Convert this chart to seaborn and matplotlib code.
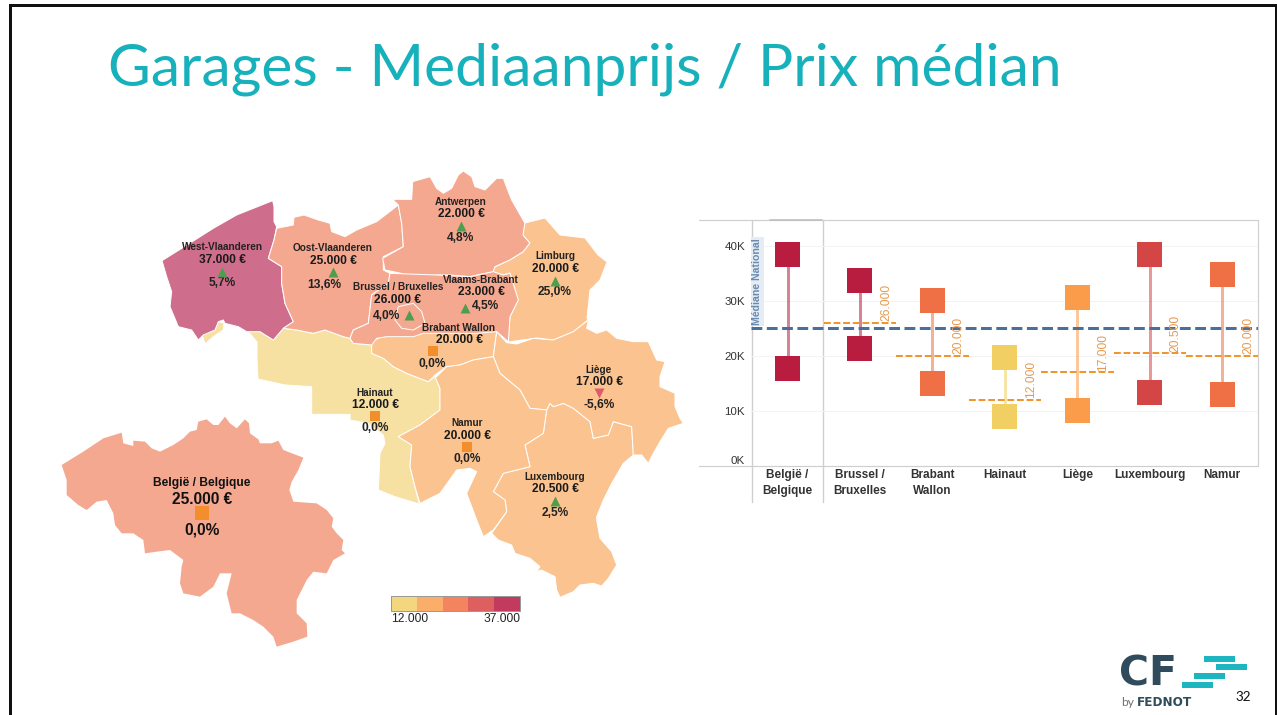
import matplotlib
matplotlib.use("Agg")
import matplotlib.pyplot as plt
from matplotlib.patches import Polygon, Rectangle
import pandas as pd
import seaborn as sns

sns.set_theme(style="white")
plt.rcParams["font.family"] = ["Liberation Sans", "DejaVu Sans"]

# ---------- chart data ----------
REGIONS = ["België /\nBelgique", "Brussel /\nBruxelles", "Brabant\nWallon", "Hainaut",
           "Liège", "Luxembourg", "Namur"]
HIGH = [38500, 33800, 30000, 19800, 30700, 38500, 34900]
LOW = [17800, 21300, 15000, 9000, 10000, 13300, 13000]
MEDIAN = [None, 26000, 20000, 12000, 17000, 20500, 20000]
MEDIAN_LABELS = ["", "26.000", "20.000", "12.000", "17.000", "20.500", "20.000"]
NATIONAL = 25000
Y_TICKS = [0, 10000, 20000, 30000, 40000]
Y_LABELS = ["0K", "10K", "20K", "30K", "40K"]
RANGE_COLORS = ["#B81D3F", "#B81D3F", "#EE7044", "#F1CF63", "#FB9C4A", "#D44646", "#EE7044"]

# ---------- map data: outlines traced in crop coordinates ----------
def crop(points, ox, oy):
    return [(ox + x / 3, oy + y / 3) for x, y in points]

WEST_VL = crop([(36,302),(100,262),(190,205),(260,165),(368,122),(372,140),(372,185),(380,200),(372,240),
    (355,295),(395,320),(395,370),(405,430),(430,485),(400,505),(370,540),(330,515),(290,515),(265,500),
    (225,490),(220,480),(205,485),(195,510),(160,525),(145,540),(125,510),(85,500),(60,440),(65,395),(50,350)], 150, 160)
MOUSCRON = crop([(155,520),(195,510),(205,485),(222,490),(220,510),(190,530),(165,552)], 150, 160)
OOST_VL = crop([(380,205),(430,195),(432,172),(462,165),(505,180),(540,190),(545,215),(585,230),(620,210),
    (680,185),(745,135),(755,190),(760,260),(700,290),(700,330),(720,340),(715,370),(665,405),(655,490),
    (610,510),(600,535),(580,530),(525,510),(490,520),(440,510),(400,505),(430,485),(405,430),(395,370),
    (395,320),(355,295),(372,240)], 150, 160)
ANTWERPEN = crop([(728,118),(785,118),(788,65),(840,50),(860,85),(880,100),(905,85),(925,45),(940,33),
    (965,50),(975,80),(1005,90),(1040,55),(1060,55),(1075,95),(1085,120),(1125,190),(1120,225),(1140,250),
    (1120,275),(1080,300),(1035,320),(1030,335),(960,350),(900,345),(860,345),(800,350),(730,335),(705,330),
    (698,295),(760,260),(755,190),(745,135)], 150, 160)
VL_BRABANT = crop([(720,340),(860,345),(960,350),(1030,335),(1060,345),(1080,340),(1105,420),(1080,470),
    (1075,545),(1040,515),(980,520),(820,520),(790,530),(710,530),(680,535),(665,555),(610,550),(600,535),
    (610,510),(655,490),(665,405),(715,370)], 150, 160)
BRUSSELS = crop([(745,440),(790,430),(815,455),(825,490),(790,510),(755,505),(735,480)], 150, 160)
LIMBURG = [(525,223),(545,218),(560,235),(585,238),(598,255),(607,262),(600,280),(590,290),(587,318),
    (588,320),(573,332),(553,340),(537,338),(508,342),(510,317),(518,300),(510,273),(503,275),(493,272),
    (495,267),(510,260),(523,252),(530,243),(523,235)]
BR_WALLON = crop([(95,65),(115,55),(145,40),(190,50),(250,25),(470,35),(460,110),(400,120),(360,135),
    (320,140),(285,165),(265,185),(200,160),(160,140),(130,115),(95,100)], 340, 320)
LIEGE = crop([(470,35),(500,68),(530,72),(580,55),(640,60),(700,35),(745,0),(740,25),(770,40),(800,30),
    (830,55),(880,65),(925,65),(950,120),(975,125),(960,170),(960,200),(1005,220),(1005,260),(1020,295),
    (1030,310),(985,325),(960,365),(940,400),(925,430),(905,405),(880,405),(875,320),(820,305),(805,345),
    (760,355),(750,305),(700,265),(670,250),(640,260),(630,250),(620,270),(570,265),(540,210),(480,160),
    (460,110)], 340, 320)
LUXEMBOURG = (crop([(620,270),(630,250),(640,260),(670,250),(700,265),(750,305),(760,355),(805,345),
    (820,305),(875,320),(880,405),(850,430),(815,490),(790,540),(770,590)], 340, 320)
    + crop([(650,30),(660,85),(695,125),(710,165),(685,205),(665,228),(640,220),(600,225),(580,245),(540,262),
    (530,240),(525,200),(485,180),(470,185),(480,170),(450,145),(405,130),(395,105),(355,90),(335,70)], 380, 510)
    + crop([(500,575),(495,540),(460,515),(490,460),(570,440),(555,375),(610,340)], 340, 320))
NAMUR = (crop([(290,170),(320,140),(360,135),(400,120),(460,110),(480,160),(540,210),(570,265),(620,270),
    (610,340),(555,375),(570,440),(490,460),(460,515),(495,540),(500,575),(460,630),(430,650),(410,600),
    (380,520),(410,455),(390,445),(350,450),(300,520),(240,550),(225,500),(210,440),(215,375),(175,350),
    (240,315),(300,270),(300,205),(285,170)], 340, 320))
HAINAUT = (crop([(295,515),(330,515),(370,540),(400,505),(440,510),(490,520),(525,510),(580,530),(600,535),
    (610,550),(665,555)], 150, 160)
    + crop([(95,65),(95,100),(130,115),(160,140),(200,160),(265,185),(285,170),(300,205),(300,270),(240,315),
    (175,350),(215,375),(210,440),(225,500),(238,552),(165,530),(115,510),(120,400),(135,370),(130,345),
    (85,310),(30,300),(30,283),(-85,283),(-85,200)], 340, 320)
    + [(285,385),(258,379),(257,360),(257,342)])
BELGIUM = crop([(35,165),(100,125),(160,85),(215,68),(220,100),(250,108),(250,92),(285,95),(305,115),(330,125),
    (370,105),(400,85),(420,65),(440,60),(445,35),(470,28),(490,45),(505,45),(525,20),(540,40),(560,55),(585,28),
    (597,40),(600,70),(625,88),(630,100),(665,100),(685,92),(700,120),(760,143),(745,180),(725,215),(718,240),
    (730,275),(770,278),(800,280),(830,300),(850,325),(845,350),(860,370),(880,390),(875,420),(885,430),(850,450),
    (830,490),(790,485),(770,510),(740,570),(740,610),(770,640),(772,680),(730,695),(680,710),(670,680),(640,650),
    (610,630),(570,610),(545,610),(530,550),(545,490),(510,490),(490,530),(450,560),(400,550),(390,520),(395,470),
    (400,450),(360,420),(320,425),(285,430),(280,390),(250,370),(215,370),(195,345),(190,310),(170,270),(140,275),
    (110,300),(85,285),(50,255),(50,210)], 50, 410)

PINK, ROSE, PEACH, YELLOW = "#F4A890", "#CF6E8C", "#FAC38F", "#F6E1A2"
PROVINCES = [(MOUSCRON, YELLOW), (HAINAUT, YELLOW), (WEST_VL, ROSE), (OOST_VL, PINK), (ANTWERPEN, PINK),
             (LIMBURG, PEACH), (BR_WALLON, PEACH), (VL_BRABANT, PINK), (BRUSSELS, PINK), (LUXEMBOURG, PEACH),
             (LIEGE, PEACH), (NAMUR, PEACH)]

# name, value, percentage, marker, label x, name y, value y, pct x, pct y, marker x, marker y
MAP_LABELS = [
    ("West-Vlaanderen", "37.000 €", "5,7%", "^", 222, 247, 260, 222, 283, 222, 272),
    ("Oost-Vlaanderen", "25.000 €", "13,6%", "^", 333, 248, 261, 324, 285, 333, 272),
    ("Antwerpen", "22.000 €", "4,8%", "^", 461, 202, 214, 461, 238, 461, 226),
    ("Limburg", "20.000 €", "25,0%", "^", 555, 256, 269, 555, 292, 555, 281),
    ("Brussel / Bruxelles", "26.000 €", "4,0%", "^", 398, 287, 300, 387, 316, 409, 315),
    ("Vlaams-Brabant", "23.000 €", "4,5%", "^", 481, 280, 292, 486, 306, 465, 308),
    ("Brabant Wallon", "20.000 €", "0,0%", "s", 459, 328, 340, 432, 364, 433, 351),
    ("Hainaut", "12.000 €", "0,0%", "s", 375, 393, 405, 375, 428, 375, 416),
    ("Namur", "20.000 €", "0,0%", "s", 467, 423, 436, 467, 459, 467, 447),
    ("Liège", "17.000 €", "-5,6%", "v", 599, 370, 382, 599, 405, 599, 393),
    ("Luxembourg", "20.500 €", "2,5%", "^", 555, 477, 489, 555, 513, 555, 501),
]
MARK_COLORS = {"^": "#4F9E4F", "s": "#F28E2B", "v": "#DE5A6C"}

LEGEND_COLORS = ["#F2D77E", "#FBAE6A", "#F4845F", "#DE5F5F", "#C23A5E"]
LEGEND_TEXT = ["12.000", "37.000"]
TITLE = "Garages - Mediaanprijs / Prix médian"
TEAL = "#17B1BC"
DARK = "#2F4B5C"
LOGO_BARS = [(1204, 656, 31, 5.5), (1216, 664, 31, 6), (1194, 673, 31, 6), (1182, 682, 31, 6)]

PX = 0.72
fig = plt.figure(figsize=(12.77, 7.15), dpi=100, facecolor="white")

# ---------- slide layer ----------
bg = fig.add_axes([0, 0, 1, 1], zorder=1)
bg.set_xlim(0, 1277)
bg.set_ylim(715, 0)
bg.axis("off")
bg.plot([9.5, 9.5, 1275.5, 1275.5], [715, 4.5, 4.5, 715], color="#111111", lw=3 * PX, solid_joinstyle="miter")
bg.text(108, 85, TITLE, family="Lato", color=TEAL, fontsize=58.8 * PX, ha="left", va="baseline")

# belgium inset and provinces
bg.add_patch(Polygon(BELGIUM, closed=True, facecolor=PINK, edgecolor="none"))
for outline, color in PROVINCES:
    bg.add_patch(Polygon(outline, closed=True, facecolor=color, edgecolor="white", lw=1.0 * PX, joinstyle="round"))

for name, value, pct, mark, lx, ny, vy, px_, py, mx, my in MAP_LABELS:
    bg.text(lx, ny, name, ha="center", va="center", fontsize=10 * PX, fontweight="bold", color="#222222")
    bg.text(lx, vy, value, ha="center", va="center", fontsize=12 * PX, fontweight="bold", color="#1a1a1a")
    bg.text(px_, py, pct, ha="center", va="center", fontsize=12 * PX, fontweight="bold", color="#222222")
    bg.scatter([mx], [my], marker=mark, s=(10 * PX) ** 2, color=MARK_COLORS[mark], linewidths=0, zorder=5)

bg.text(202, 483, "België / Belgique", ha="center", va="center", fontsize=12 * PX, fontweight="bold", color="#111111")
bg.text(202, 499, "25.000 €", ha="center", va="center", fontsize=15.5 * PX, fontweight="bold", color="#111111")
bg.text(202, 530, "0,0%", ha="center", va="center", fontsize=15.5 * PX, fontweight="bold", color="#111111")
bg.scatter([202], [513], marker="s", s=(14 * PX) ** 2, color=MARK_COLORS["s"], linewidths=0, zorder=5)

# colour legend
seg = (520 - 391) / len(LEGEND_COLORS)
for i, c in enumerate(LEGEND_COLORS):
    bg.add_patch(Rectangle((391 + i * seg, 596), seg, 15, facecolor=c, edgecolor="none"))
bg.add_patch(Rectangle((391, 596), 129, 15, facecolor="none", edgecolor="#9A9A9A", lw=1 * PX))
bg.text(391, 619, LEGEND_TEXT[0], ha="left", va="center", fontsize=12 * PX, color="#222222")
bg.text(520, 619, LEGEND_TEXT[1], ha="right", va="center", fontsize=12 * PX, color="#222222")

# chart frame parts that sit outside the plotting area
GRID = "#CFCFCF"
bg.plot([699, 1258], [220, 220], color=GRID, lw=1.2 * PX)
bg.plot([770, 822], [219.5, 219.5], color="#BDBDBD", lw=1.6 * PX)
bg.plot([699, 1258], [466, 466], color=GRID, lw=1.2 * PX)
bg.plot([752, 752], [220, 502], color=GRID, lw=1.4 * PX)
bg.plot([822.5, 822.5], [220, 502], color=GRID, lw=1.4 * PX)
bg.plot([1258, 1258], [220, 466], color=GRID, lw=1.2 * PX)

# logo
bg.text(1119, 685, "CF", family="DejaVu Sans", fontweight="bold", color=DARK, fontsize=41 * PX, ha="left", va="baseline")
for x, y, w, h in LOGO_BARS:
    bg.add_patch(Rectangle((x, y), w, h, facecolor="#1DB5C0", edgecolor="none"))
bg.text(1121, 706, "by", family="Lato", color="#707070", fontsize=12 * PX, ha="left", va="baseline")
bg.text(1137, 706, "FEDNOT", family="DejaVu Sans", fontweight="bold", color=DARK, fontsize=12 * PX, ha="left", va="baseline")
bg.text(1235, 701, "32", family="Lato", color="#111111", fontsize=13.5 * PX, ha="left", va="baseline")

# ---------- range chart ----------
ax = fig.add_axes([751.3 / 1277, 1 - 466 / 715, (1258.4 - 751.3) / 1277, 246 / 715], zorder=2)
ax.patch.set_alpha(0)
positions = list(range(len(REGIONS)))
frame = pd.DataFrame({
    "pos": positions * 2,
    "value": HIGH + LOW,
    "region": REGIONS * 2,
})
palette = dict(zip(REGIONS, RANGE_COLORS))
sns.lineplot(data=frame, x="pos", y="value", hue="region", palette=palette, estimator=None, sort=False,
             units="region", alpha=0.55, lw=3 * PX, legend=False, ax=ax, zorder=2)
sns.scatterplot(data=frame, x="pos", y="value", hue="region", palette=palette, marker="s",
                s=(25 * PX) ** 2, linewidth=0, legend=False, ax=ax, zorder=4)
ax.axhline(NATIONAL, color="#4A6F9C", lw=3 * PX, dashes=(3.6, 1.5), zorder=3)
for i, (m, lab) in enumerate(zip(MEDIAN, MEDIAN_LABELS)):
    if m is None:
        continue
    ax.plot([i - 0.5, i + 0.5], [m, m], color="#F0962E", lw=2 * PX, dashes=(3.4, 1.4), zorder=3)
    ax.text(i + 0.36, m + 300, lab, rotation=90, ha="center", va="bottom", color="#E69A50",
            fontsize=12 * PX, zorder=5)

ax.text(-0.415, 25600, "Médiane National", rotation=90, ha="center", va="bottom", color="#6A8BB0",
        fontsize=10.5 * PX, fontweight="bold", zorder=5,
        bbox=dict(facecolor="#E6ECF4", edgecolor="none", pad=0.8))

ax.set_xlim(-0.5, 6.5)
ax.set_ylim(0, 44727)
ax.set_xlabel("")
ax.set_ylabel("")
ax.set_yticks(Y_TICKS, Y_LABELS)
ax.set_xticks(positions, REGIONS)
ax.tick_params(axis="y", length=0, pad=4.5, labelsize=11.5 * PX, labelcolor="#333333")
ax.tick_params(axis="x", length=0, pad=2, labelsize=11.8 * PX, labelcolor="#333333")
for lab in ax.get_xticklabels():
    lab.set_fontweight("bold")
    lab.set_linespacing(1.5)
ax.get_yticklabels()[0].set_verticalalignment("bottom")
for y in Y_TICKS[1:]:
    ax.axhline(y, color="#F3F3F3", lw=1 * PX, zorder=1)
sns.despine(ax=ax, left=True, bottom=True, top=True, right=True)
ax.grid(False)

fig.savefig("out.png", dpi=100, facecolor="white")
